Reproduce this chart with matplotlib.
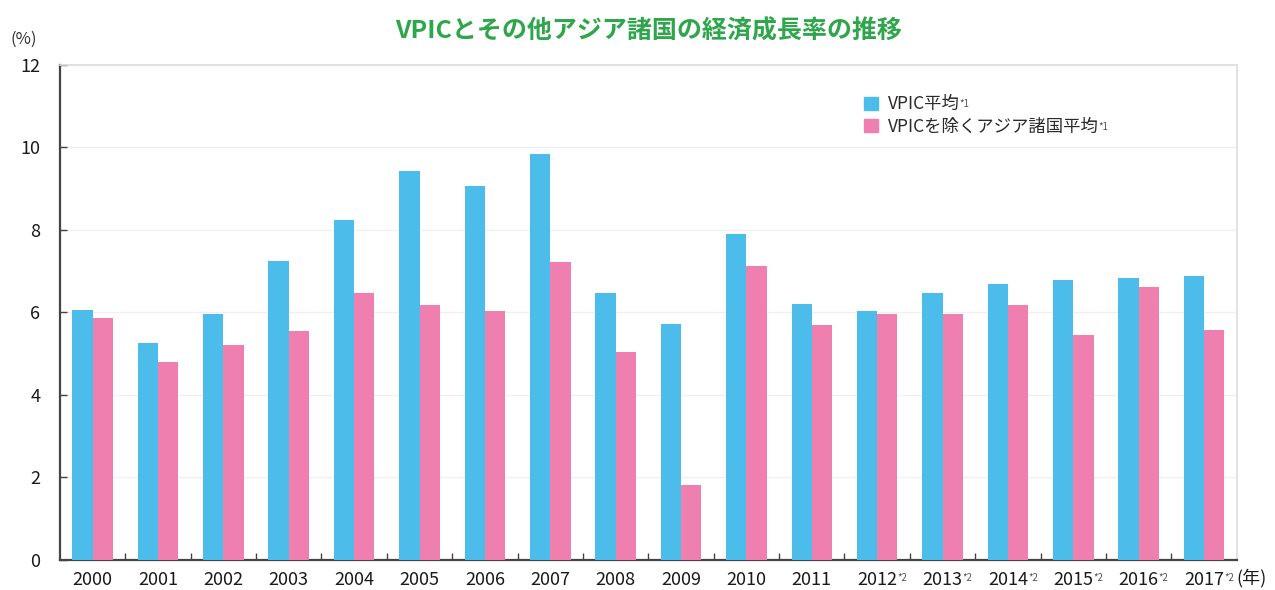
import matplotlib
matplotlib.use("Agg")
import matplotlib.pyplot as plt
import numpy as np
from matplotlib.patches import Patch

plt.rcParams["font.family"] = ["Noto Sans CJK JP", "DejaVu Sans"]

years = ["2000", "2001", "2002", "2003", "2004", "2005", "2006", "2007", "2008",
         "2009", "2010", "2011", "2012", "2013", "2014", "2015", "2016", "2017"]
# 年ごとの注記 (*2 = 予測値など)
year_notes = ["", "", "", "", "", "", "", "", "", "", "", "",
              "*2", "*2", "*2", "*2", "*2", "*2"]
vpic_avg = [6.06, 5.26, 5.96, 7.25, 8.24, 9.44, 9.07, 9.85, 6.47,
            5.71, 7.90, 6.20, 6.04, 6.47, 6.69, 6.79, 6.84, 6.88]
other_asia_avg = [5.87, 4.80, 5.21, 5.55, 6.48, 6.18, 6.04, 7.22, 5.04,
                  1.82, 7.13, 5.70, 5.96, 5.96, 6.18, 5.45, 6.62, 5.58]
series_labels = ["VPIC平均", "VPICを除くアジア諸国平均"]

BLUE = "#4cbdea"
PINK = "#ee7fae"
GREEN = "#2fa64b"
DARK = "#444444"

fig = plt.figure(figsize=(12.75, 5.9), dpi=100)
ax = fig.add_axes([0.047, 0.051, 0.923, 0.839])

x = np.arange(len(years))
w = 0.31
ax.bar(x - w / 2, vpic_avg, width=w, color=BLUE, zorder=3)
ax.bar(x + w / 2, other_asia_avg, width=w, color=PINK, zorder=3)

ax.set_xlim(-0.5, len(years) - 0.5)
ax.set_ylim(0, 12)

# Eje Y
ax.set_yticks(np.arange(0, 13, 2))
ax.tick_params(axis="y", direction="in", length=5, width=1, color=DARK,
               labelsize=13, labelcolor="#1a1a1a", pad=14)
ax.grid(axis="y", color="#f0f0f0", linewidth=1, zorder=0)

# Eje X: marcas entre grupos, etiquetas en el centro
ax.set_xticks(np.arange(0.5, len(years) - 0.5, 1))
ax.set_xticklabels([])
ax.tick_params(axis="x", which="major", direction="in", length=5, width=1, color=DARK)
ax.set_xticks(x, minor=True)
ax.set_xticklabels(years, minor=True)
ax.tick_params(axis="x", which="minor", length=0, labelsize=13,
               labelcolor="#1a1a1a", pad=8)

for side in ["left", "bottom"]:
    ax.spines[side].set_color(DARK)
    ax.spines[side].set_linewidth(1.6)
for side in ["top", "right"]:
    ax.spines[side].set_color("#dddddd")
    ax.spines[side].set_linewidth(1.2)

ax.set_title("VPICとその他アジア諸国の経済成長率の推移", fontsize=18,
             fontweight="bold", color=GREEN, pad=19)
fig.text(0.008, 0.925, "(%)", fontsize=12, color="#333333")

handles = [Patch(color=BLUE), Patch(color=PINK)]
leg = ax.legend(handles, series_labels, loc="upper left",
                bbox_to_anchor=(0.67, 0.97), frameon=False, fontsize=12.5,
                handlelength=0.8, handleheight=0.8, handletextpad=0.6,
                labelspacing=0.25)
for t in leg.get_texts():
    t.set_color("#2a2a2a")

# Notas pequeñas (*1, *2, (年))
fig.canvas.draw()
renderer = fig.canvas.get_renderer()
inv = fig.transFigure.inverted()
for t in leg.get_texts():
    bb = t.get_window_extent(renderer)
    x1, y1 = inv.transform((bb.x1 - 1, bb.y1 - 4))
    fig.text(x1, y1, "*1", fontsize=7, color="#555555", va="top")

minor_labels = ax.get_xticklabels(minor=True)
last_bb = None
for lab, note in zip(minor_labels, year_notes):
    bb = lab.get_window_extent(renderer)
    last_bb = bb
    if note:
        x1, y1 = inv.transform((bb.x1 + 0, bb.y1 - 2))
        fig.text(x1, y1, note, fontsize=7, color="#555555", va="top")
x1, y1 = inv.transform((last_bb.x1 + 12, (last_bb.y0 + last_bb.y1) / 2 + 2))
fig.text(x1, y1, "(年)", fontsize=13, color="#1a1a1a", va="center")

fig.savefig("out.png", dpi=100)
